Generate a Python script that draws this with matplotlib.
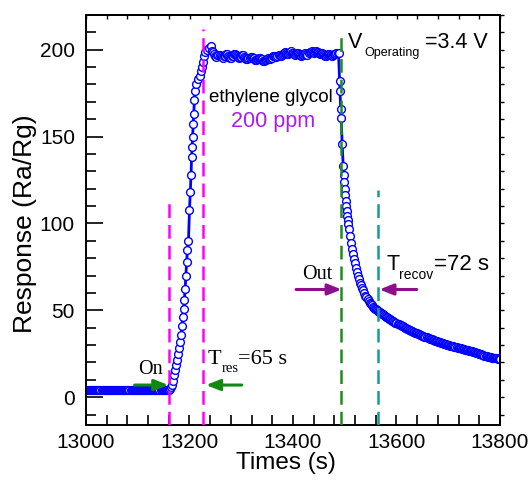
import numpy as np
import matplotlib
matplotlib.use("Agg")
import matplotlib.pyplot as plt
from matplotlib.ticker import MultipleLocator

# ---------------- data ----------------
base_t = np.arange(13000, 13160, 2)
base_y = [4.4, 4.2, 4.3, 4.1, 4.2, 4.4, 4.3, 4.2, 4.1, 4.3,
          4.2, 4.4, 4.3, 4.1, 4.2, 4.3, 4.2, 4.4, 4.2, 4.1,
          4.3, 4.2, 4.3, 4.4, 4.2, 4.1, 4.2, 4.3, 4.2, 4.4,
          4.3, 4.2, 4.1, 4.2, 4.3, 4.2, 4.3, 4.1, 4.2, 4.3,
          4.2, 4.3, 4.4, 4.2, 4.1, 4.3, 4.2, 4.2, 4.4, 4.3,
          4.1, 4.2, 4.3, 4.2, 4.4, 4.3, 4.2, 4.1, 4.3, 4.2,
          4.4, 4.2, 4.3, 4.3, 4.1, 4.2, 4.4, 4.2, 4.3, 4.2,
          4.1, 4.3, 4.2, 4.4, 4.2, 4.3, 4.1, 4.2, 4.3, 4.2]

rise_t = [13160, 13162, 13164, 13166, 13168, 13170, 13172, 13174, 13176, 13178,
          13180, 13182, 13184, 13185.5, 13187, 13188.5, 13190, 13191.5, 13193,
          13194.5, 13196, 13198, 13200, 13201.5, 13203, 13204, 13205, 13206,
          13207, 13208, 13209.5, 13211, 13213, 13216, 13220, 13223, 13225,
          13226.5, 13228, 13230, 13233, 13237, 13241]
rise_y = [4.3, 4.8, 5.8, 7.2, 9.5, 12.5, 15.5, 18.5, 21.5, 25, 28.5, 32, 36, 41,
          46, 51, 56, 62, 70, 78, 84.5, 90, 108, 118, 128, 138, 144, 150, 157,
          163, 171, 176.5, 180.5, 183, 185, 187.5, 190, 193, 196.5, 198.5, 200,
          201, 202]

plat_t = np.arange(13244, 13488, 2)
plat_y = [199.5, 198.8, 197.5, 196.4, 196, 196.8, 197, 197.2, 196.5, 195.7,
          195.5, 196.3, 196.5, 197.3, 197.5, 196.6, 196, 195.4, 195.5, 196.2,
          196.5, 197.4, 197.5, 197.0, 196.5, 195.6, 195, 195.7, 196, 196.8,
          197, 196.1, 195.5, 194.8, 194.5, 195.2, 195.5, 196.1, 196, 195.3,
          195, 194.3, 194, 194.4, 194.5, 195.2, 195.5, 194.9, 194.5, 193.8,
          193.5, 193.9, 194, 194.7, 195, 194.6, 194.5, 195.1, 195.5, 196.2,
          196.5, 196.4, 196, 196.6, 197, 196.8, 196.5, 197.1, 197.5, 198.2,
          198.5, 197.9, 197.5, 197.8, 198, 198.7, 199, 198.4, 198, 197.3,
          197, 197.6, 198, 197.9, 197.5, 196.8, 196.5, 196.7, 197, 197.6,
          198, 197.4, 197, 197.9, 198.5, 198.9, 199, 198.5, 198, 198.6,
          199, 198.8, 198.5, 197.9, 197.5, 197.7, 198, 197.4, 197, 196.6,
          196.5, 197.1, 197.5, 197.3, 197, 196.7, 196.5, 197.0, 197.5, 197.8,
          198, 198.3]

drop_t = [13488, 13490, 13491, 13492, 13493, 13495, 13497, 13498, 13499, 13500,
          13501, 13502, 13503, 13504, 13505, 13506, 13507, 13508, 13510, 13512,
          13514, 13516, 13518, 13520, 13522, 13524, 13526, 13528, 13530, 13532,
          13534, 13536, 13538, 13540, 13542, 13544, 13546, 13548, 13550, 13552,
          13554, 13556, 13558, 13560, 13562, 13564, 13566]
drop_y = [198, 182, 176, 166, 161, 146, 133, 128, 124, 120, 116.5, 113, 110,
          107, 104.5, 102, 99.5, 97, 93, 89, 85.5, 82.5, 79.5, 77, 74.5, 72.2,
          70, 68, 66, 64.5, 63, 61.5, 60, 58.5, 57.5, 56.5, 55.5, 54.5, 53.5,
          52.8, 52.1, 51.5, 51, 50.5, 50, 49.6, 49.3]

tail_t = np.arange(13568, 13801, 2)
tail_y = [49.0, 48.6, 48.1, 47.7, 47.2, 46.8, 46.4, 46.0, 45.6, 45.2,
          44.8, 44.4, 44.0, 43.7, 43.3, 43.0, 42.6, 42.3, 41.9, 41.6,
          41.3, 41.0, 40.7, 40.4, 40.1, 39.8, 39.5, 39.2, 38.9, 38.6,
          38.3, 38.0, 37.8, 37.5, 37.2, 37.0, 36.7, 36.4, 36.2, 35.9,
          35.7, 35.4, 35.2, 34.9, 34.7, 34.4, 34.2, 34.0, 33.7, 33.5,
          33.3, 33.1, 32.8, 32.6, 32.4, 32.2, 32.0, 31.8, 31.6, 31.4,
          31.2, 31.0, 30.8, 30.6, 30.4, 30.2, 30.1, 29.9, 29.7, 29.5,
          29.4, 29.2, 29.0, 28.9, 28.7, 28.5, 28.4, 28.2, 28.1, 27.9,
          27.8, 27.6, 27.4, 27.3, 27.1, 27.0, 26.8, 26.7, 26.5, 26.4,
          26.2, 26.0, 25.8, 25.6, 25.4, 25.2, 25.0, 24.8, 24.6, 24.4,
          24.2, 24.0, 23.8, 23.6, 23.4, 23.2, 23.0, 22.9, 22.8, 22.7,
          22.6, 22.5, 22.4, 22.3, 22.2, 22.1, 22.0]

# event markers (dashed lines): x position and top of the dash
gas_on_t, gas_on_top = 13161, 112
res_end_t, res_end_top = 13226, 212
gas_out_t, gas_out_top = 13493, 210
recov_end_t, recov_end_top = 13565, 119

x_ticks = [13000, 13200, 13400, 13600, 13800]
y_ticks = [0, 50, 100, 150, 200]

# ---------------- figure ----------------
t_all = np.concatenate([base_t, rise_t, plat_t, drop_t, tail_t])
y_all = np.concatenate([base_y, rise_y, plat_y, drop_y, tail_y])

SANS = ["Liberation Sans", "DejaVu Sans"]
SERIF = ["Liberation Serif", "DejaVu Serif"]
plt.rcParams["font.family"] = SANS

fig = plt.figure(figsize=(5.32, 4.8), dpi=100)
ax = fig.add_axes([86 / 532, 1 - 425 / 480, 414 / 532, 410 / 480])

ax.plot(t_all, y_all, color="#0000FF", lw=2.0, marker="o", ms=5.6,
        mfc="white", mec="#0000FF", mew=1.0, zorder=2)

ax.set_xlim(13000, 13800)
ax.set_ylim(-16, 220)

dash = dict(lw=1.8, dashes=(5.5, 2.8), zorder=3)
ax.plot([gas_on_t, gas_on_t], [-16, gas_on_top], color="#FF00FF", **dash)
ax.plot([res_end_t, res_end_t], [-16, res_end_top], color="#FF00FF", **dash)
ax.plot([gas_out_t, gas_out_t], [-16, gas_out_top], color="#1E8C1E", **dash)
ax.plot([recov_end_t, recov_end_t], [-16, recov_end_top], color="#139A9A", **dash)

# ticks
ax.set_xticks(x_ticks)
ax.set_yticks(y_ticks)
ax.xaxis.set_minor_locator(MultipleLocator(40))
ax.yaxis.set_minor_locator(MultipleLocator(10))
ax.tick_params(axis="x", which="both", direction="in", length=7, width=1.2,
               top=False, labelsize=15, pad=6)
ax.tick_params(axis="y", which="major", direction="in", length=12, width=1.2,
               right=False, labelsize=15, pad=8)
ax.tick_params(axis="y", which="minor", direction="in", length=7, width=1.2,
               right=False)
for sp in ax.spines.values():
    sp.set_linewidth(1.4)

secx = ax.secondary_xaxis("top")
secx.set_xticks(x_ticks)
secx.xaxis.set_minor_locator(MultipleLocator(40))
secx.tick_params(axis="x", which="both", direction="in", length=3, width=1.0,
                 labeltop=False)
secx.spines["top"].set_linewidth(1.4)
secy = ax.secondary_yaxis("right")
secy.set_yticks(y_ticks)
secy.yaxis.set_minor_locator(MultipleLocator(10))
secy.tick_params(axis="y", which="both", direction="out", length=3, width=1.0,
                 labelright=False)
secy.spines["right"].set_linewidth(1.4)

ax.set_xlabel("Times (s)", fontsize=17.5)
ax.set_ylabel("Response (Ra/Rg)", fontsize=19)
ax.xaxis.set_label_coords(0.483, -0.067)
ax.yaxis.set_label_coords(-0.118, 0.49)

# ---------------- annotations ----------------
renderer = fig.canvas.get_renderer()


def rich(x, y, parts, family, color="black"):
    off = 0.0
    for s, size, dx, dy in parts:
        off += dx
        t = ax.annotate(s, xy=(x, y), xycoords="data", xytext=(off, dy),
                        textcoords="offset points", fontsize=size,
                        family=family, color=color, ha="left", va="baseline",
                        zorder=5)
        off += t.get_window_extent(renderer).width * 72 / fig.dpi


rich(13506, 201, [("V", 15.5, 0, 0), ("Operating", 9, 1.5, -6),
                  ("=3.4 V", 15.5, 4, 0)], SANS)
rich(13580, 73.5, [("T", 15.5, 0, 0), ("recov", 10, 0, -6.5),
                   ("=72 s", 16, 0.5, 0)], SANS)
rich(13235, 19.4, [("T", 16, 0, 0), ("res", 10.5, 0, -6),
                   ("=65 s", 16, 0, 0)], SERIF)
ax.text(13101, 13.2, "On", fontsize=14.5, family=SERIF, ha="left",
        va="baseline", zorder=5)
ax.text(13418, 68.3, "Out", fontsize=14.5, family=SERIF, ha="left",
        va="baseline", zorder=5)
ax.text(13358, 170, "ethylene glycol", fontsize=13.5, ha="center",
        va="baseline", zorder=5)
ax.text(13362, 155.6, "200 ppm", fontsize=15.5, color="#A71FE6",
        ha="center", va="baseline", zorder=5)


def arrow(x0, x1, y, color):
    ax.annotate("", xy=(x1, y), xytext=(x0, y),
                arrowprops=dict(arrowstyle="-|>,head_length=0.55,head_width=0.22",
                                mutation_scale=15, color=color, lw=2.2,
                                shrinkA=0, shrinkB=0), zorder=6)


arrow(13094, 13159, 7, "#118811")
arrow(13301, 13232, 7, "#118811")
arrow(13406, 13494, 62, "#8E0E8E")
arrow(13639, 13567, 62, "#8E0E8E")

fig.savefig("out.png", dpi=100)
